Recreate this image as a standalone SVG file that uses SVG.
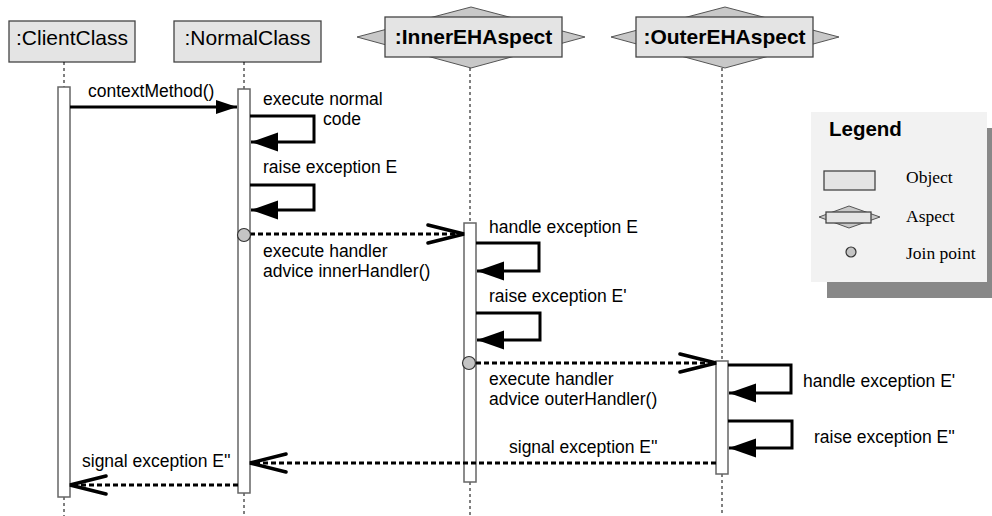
<svg xmlns="http://www.w3.org/2000/svg" width="992" height="516" viewBox="0 0 992 516">
<style>
.obj{fill:#e4e4e4;stroke:#444;stroke-width:1.3}
.dia{fill:#c8c8c8;stroke:#555;stroke-width:1}
.life{stroke:#000;stroke-width:1;stroke-dasharray:3,3;fill:none}
.bar{fill:#fff;stroke:#666;stroke-width:1.5}
.jp{fill:#c4c4c4;stroke:#333;stroke-width:1.2}
.hdr{font-family:"Liberation Sans",Arial,sans-serif;font-size:21px;fill:#000}
.hdrb{font-family:"Liberation Sans",Arial,sans-serif;font-size:21px;font-weight:bold;fill:#000}
.lbl{font-family:"Liberation Sans",Arial,sans-serif;font-size:17.5px;fill:#000}
.leg{font-family:"Liberation Serif","Times New Roman",serif;font-size:17.5px;fill:#000}
.legt{font-family:"Liberation Sans",Arial,sans-serif;font-size:20.5px;font-weight:bold;fill:#000}
.sync{fill:none;stroke:#000;stroke-width:3}
.async{fill:none;stroke:#000;stroke-width:3;stroke-dasharray:5,3}
</style>
<defs>
<marker id="fillBig" markerUnits="userSpaceOnUse" markerWidth="30" markerHeight="22" refX="27" refY="9.5" orient="auto">
<path d="M0,0 L27,9.5 L0,19 z" fill="#000" stroke="none"/>
</marker>
<marker id="fillSmall" markerUnits="userSpaceOnUse" markerWidth="24" markerHeight="16" refX="21" refY="7" orient="auto">
<path d="M0,0 L21,7 L0,14 z" fill="#000" stroke="none"/>
</marker>
<marker id="open" markerUnits="userSpaceOnUse" markerWidth="42" markerHeight="26" refX="38" refY="11" orient="auto">
<path d="M2,2 L38,11 L2,20" fill="none" stroke="#000" stroke-width="3.5" stroke-dasharray="none" stroke-linecap="round"/>
</marker>
</defs>

<g id="legend">
<rect x="827" y="128" width="176" height="170" fill="#888"/>
<rect x="811" y="112" width="176" height="170" fill="#f2f2f2"/>
<text class="legt" x="829" y="136">Legend</text>
<rect class="obj" x="824" y="171" width="51" height="19"/>
<text class="leg" x="906" y="183">Object</text>
<polygon class="dia" points="819,217 849,206 880,217 849,228"/>
<rect class="obj" x="826" y="212" width="45" height="11"/>
<text class="leg" x="906" y="222">Aspect</text>
<circle class="jp" cx="851" cy="252" r="5"/>
<text class="leg" x="906" y="259">Join point</text>
</g>

<g id="ClientClass">
<rect class="obj" x="9" y="21" width="126" height="41"/>
<text class="hdr" x="72" y="45" text-anchor="middle">:ClientClass</text>
<line class="life" x1="64" y1="62" x2="64" y2="87"/>
<line class="life" x1="64" y1="497" x2="64" y2="516"/>
<rect class="bar" x="58" y="87" width="12" height="410"/>
</g>

<g id="NormalClass">
<rect class="obj" x="174" y="21" width="147" height="41"/>
<text class="hdr" x="247.5" y="45" text-anchor="middle">:NormalClass</text>
<line class="life" x1="244" y1="62" x2="244" y2="89"/>
<line class="life" x1="244" y1="493" x2="244" y2="516"/>
<rect class="bar" x="238" y="89" width="12" height="404"/>
</g>

<g id="InnerEHAspect">
<polygon class="dia" points="357,37 471,7 585,37 471,68"/>
<rect class="obj" x="385" y="17" width="177" height="40"/>
<text class="hdrb" x="473.5" y="44" text-anchor="middle">:InnerEHAspect</text>
<line class="life" x1="470" y1="68" x2="470" y2="223"/>
<line class="life" x1="470" y1="482" x2="470" y2="516"/>
<rect class="bar" x="464" y="223" width="12" height="259"/>
</g>

<g id="OuterEHAspect">
<polygon class="dia" points="611,37 725,7 839,37 725,68"/>
<rect class="obj" x="636" y="17" width="177" height="40"/>
<text class="hdrb" x="724.5" y="44" text-anchor="middle">:OuterEHAspect</text>
<line class="life" x1="722" y1="68" x2="722" y2="361"/>
<line class="life" x1="722" y1="474" x2="722" y2="516"/>
<rect class="bar" x="716" y="361" width="12" height="113"/>
</g>

<g id="connectors">
<path class="sync" d="M70,107 H237" marker-end="url(#fillSmall)"/>
<path class="sync" d="M250,116 H314 V142 H251" marker-end="url(#fillBig)"/>
<path class="sync" d="M250,185 H314 V210 H251" marker-end="url(#fillBig)"/>
<path class="async" d="M250,234 H464" marker-end="url(#open)"/>
<path class="sync" d="M476,243 H539 V271 H477" marker-end="url(#fillBig)"/>
<path class="sync" d="M476,313 H540 V340 H477" marker-end="url(#fillBig)"/>
<path class="async" d="M476,363 H716" marker-end="url(#open)"/>
<path class="sync" d="M728,365 H791 V393 H729" marker-end="url(#fillBig)"/>
<path class="sync" d="M728,421 H792 V448 H729" marker-end="url(#fillBig)"/>
<path class="async" d="M716,463 H250" marker-end="url(#open)"/>
<path class="async" d="M238,485 H70" marker-end="url(#open)"/>
<circle class="jp" cx="244" cy="235" r="6.5"/>
<circle class="jp" cx="469" cy="363" r="6.5"/>
</g>

<g id="labels">
<text class="lbl" x="88" y="97">contextMethod()</text>
<text class="lbl" x="263" y="105">execute normal</text>
<text class="lbl" x="323" y="125">code</text>
<text class="lbl" x="263" y="173">raise exception E</text>
<text class="lbl" x="263" y="257">execute handler</text>
<text class="lbl" x="263" y="277">advice innerHandler()</text>
<text class="lbl" x="489" y="233">handle exception E</text>
<text class="lbl" x="489" y="302">raise exception E'</text>
<text class="lbl" x="489" y="385">execute handler</text>
<text class="lbl" x="489" y="405">advice outerHandler()</text>
<text class="lbl" x="803" y="387">handle exception E'</text>
<text class="lbl" x="814" y="443">raise exception E''</text>
<text class="lbl" x="509" y="453">signal exception E''</text>
<text class="lbl" x="82" y="467">signal exception E''</text>
</g>
</svg>
